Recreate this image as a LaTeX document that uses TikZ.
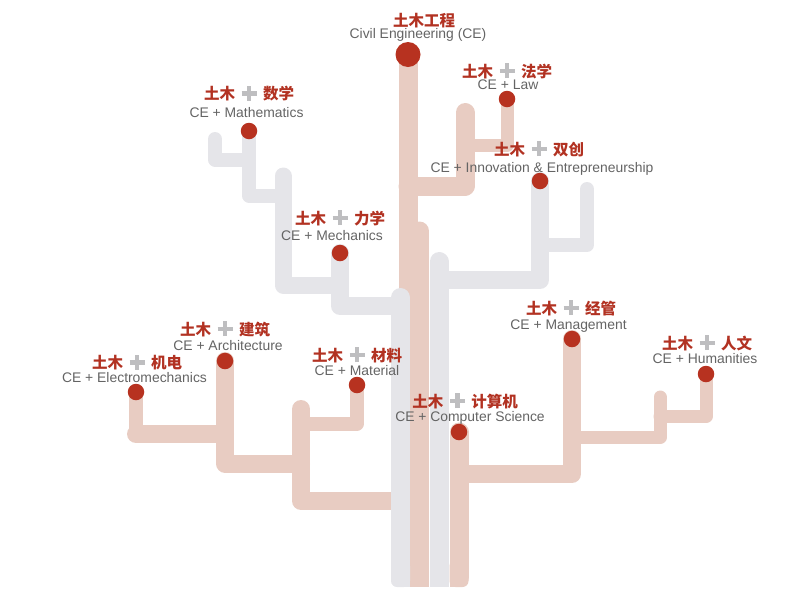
\documentclass[tikz,border=0pt]{standalone}
\usepackage{fontspec}
\setmainfont{Liberation Sans}
\newfontfamily\cjk{Noto Sans CJK SC}
\definecolor{pinkc}{RGB}{232,204,194}
\definecolor{greyc}{RGB}{229,229,233}
\definecolor{dotc}{RGB}{183,50,32}
\definecolor{redc}{RGB}{178,50,34}
\definecolor{engc}{RGB}{100,100,100}
\definecolor{plusc}{RGB}{190,190,192}
\newcommand\gplus{\hspace{6.5pt}{\color{plusc}\rlap{\raisebox{4pt}{\rule{15pt}{4.5pt}}}\hspace{5.25pt}\rule[-1.2pt]{4.5pt}{15pt}\hspace{5.25pt}}\hspace{6.5pt}}
\begin{document}
\begin{tikzpicture}[x=1pt,y=-1pt,
  pinkbr/.style={draw=pinkc,line cap=round,line join=round},
  greybr/.style={draw=greyc,line cap=round,line join=round},
  dotn/.style={circle,fill=dotc,inner sep=0pt,minimum size=16.5pt},
  zhlab/.style={anchor=base,inner sep=0pt,text=redc,font={\cjk\bfseries\fontsize{15.5}{18}\selectfont}},
  enlab/.style={anchor=base,inner sep=0pt,text=engc,font={\fontsize{13.9}{16}\selectfont}}]
\useasboundingbox (0,0) rectangle (803,595);
% dot positions
\coordinate (p-ce) at (408,54.5);
\coordinate (p-fx) at (507,99);
\coordinate (p-sc) at (540,181);
\coordinate (p-sx) at (249,131);
\coordinate (p-lx) at (340,253);
\coordinate (p-jg) at (572,339);
\coordinate (p-rw) at (706,374);
\coordinate (p-jz) at (225,361);
\coordinate (p-jd) at (136,392);
\coordinate (p-cl) at (357,385);
\coordinate (p-js) at (459,432);
% pink trunk and branches
\draw[pinkbr,line width=19pt] (p-ce) -- (408,300);
\draw[pinkbr,line width=19pt] (419.5,231) -- (419.5,577);
\fill[pinkc] (410,570) rectangle (429,587);
\draw[pinkbr,line width=19pt] (465,112.5) -- (465,186) -- (408,186);
\draw[pinkbr,line width=13pt] (p-fx) -- (507,145) -- (465,145);
\draw[pinkbr,line width=14pt] (p-jd) -- (136,434);
\draw[pinkbr,line width=18pt] (136,434) -- (225,434);
\draw[pinkbr,line width=18pt] (p-jz) -- (225,463.5) -- (301,463.5);
\draw[pinkbr,line width=14pt] (p-cl) -- (357,423.5) -- (301,423.5);
\draw[pinkbr,line width=18pt] (301,409) -- (301,501) -- (419.5,501);
\draw[pinkbr,line width=19pt] (p-js) -- (459,577);
\fill[pinkc,rounded corners=6pt] (449.5,560) rectangle (468.5,587);
\fill[pinkc] (449.5,560) rectangle (459,587);
\draw[pinkbr,line width=18pt] (p-jg) -- (572,474) -- (459,474);
\draw[pinkbr,line width=13pt] (p-rw) -- (706,416.5) -- (660,416.5);
\draw[pinkbr,line width=13pt] (660,397) -- (660,437.5) -- (572,437.5);
% grey trunks and branches
\draw[greybr,line width=19pt] (400.5,297.5) -- (400.5,577);
\fill[greyc,rounded corners=6pt] (391,560) rectangle (410,587);
\fill[greyc] (400.5,560) rectangle (410,587);
\draw[greybr,line width=19pt] (439,261.5) -- (439,577);
\fill[greyc] (429.5,565) rectangle (448.5,587);
\draw[greybr,line width=18pt] (p-lx) -- (340,306) -- (400.5,306);
\draw[greybr,line width=17pt] (283,176) -- (283,285) -- (340,285);
\draw[greybr,line width=14pt] (p-sx) -- (249,195.5) -- (283,195.5);
\draw[greybr,line width=14pt] (215,139) -- (215,159.5) -- (249,159.5);
\draw[greybr,line width=18pt] (p-sc) -- (540,280) -- (439,280);
\draw[greybr,line width=14pt] (587,189) -- (587,245) -- (540,245);
% dots
\node[dotn,minimum size=25pt] (ce) at (p-ce) {};
\node[dotn] (fx) at (p-fx) {};
\node[dotn] (sc) at (p-sc) {};
\node[dotn] (sx) at (p-sx) {};
\node[dotn] (lx) at (p-lx) {};
\node[dotn] (jg) at (p-jg) {};
\node[dotn] (rw) at (p-rw) {};
\node[dotn] (jz) at (p-jz) {};
\node[dotn] (jd) at (p-jd) {};
\node[dotn] (cl) at (p-cl) {};
\node[dotn] (js) at (p-js) {};
% labels
\node[zhlab] (zh-ce) at (424,26) {土木工程};
\node[enlab] (en-ce) at (418,38.5) {Civil Engineering (CE)};
\node[zhlab] (zh-sx) at (249,99.5) {土木\gplus 数学};
\node[enlab] (en-sx) at (246.5,117) {CE + Mathematics};
\node[zhlab] (zh-fx) at (507,77) {土木\gplus 法学};
\node[enlab] (en-fx) at (508,89) {CE + Law};
\node[zhlab] (zh-sc) at (539,155) {土木\gplus 双创};
\node[enlab] (en-sc) at (542,172) {CE + Innovation \& Entrepreneurship};
\node[zhlab] (zh-lx) at (340,224) {土木\gplus 力学};
\node[enlab] (en-lx) at (332,240) {CE + Mechanics};
\node[zhlab] (zh-jz) at (225,335) {土木\gplus 建筑};
\node[enlab] (en-jz) at (228,350) {CE + Architecture};
\node[zhlab] (zh-jd) at (137,368.5) {土木\gplus 机电};
\node[enlab] (en-jd) at (134.5,382) {CE + Electromechanics};
\node[zhlab] (zh-cl) at (357,361) {土木\gplus 材料};
\node[enlab] (en-cl) at (357,375) {CE + Material};
\node[zhlab] (zh-js) at (465,407) {土木\gplus 计算机};
\node[enlab] (en-js) at (470,421) {CE + Computer Science};
\node[zhlab] (zh-jg) at (571,314) {土木\gplus 经管};
\node[enlab] (en-jg) at (568.5,329) {CE + Management};
\node[zhlab] (zh-rw) at (707,349) {土木\gplus 人文};
\node[enlab] (en-rw) at (705,363) {CE + Humanities};
\end{tikzpicture}
\end{document}
